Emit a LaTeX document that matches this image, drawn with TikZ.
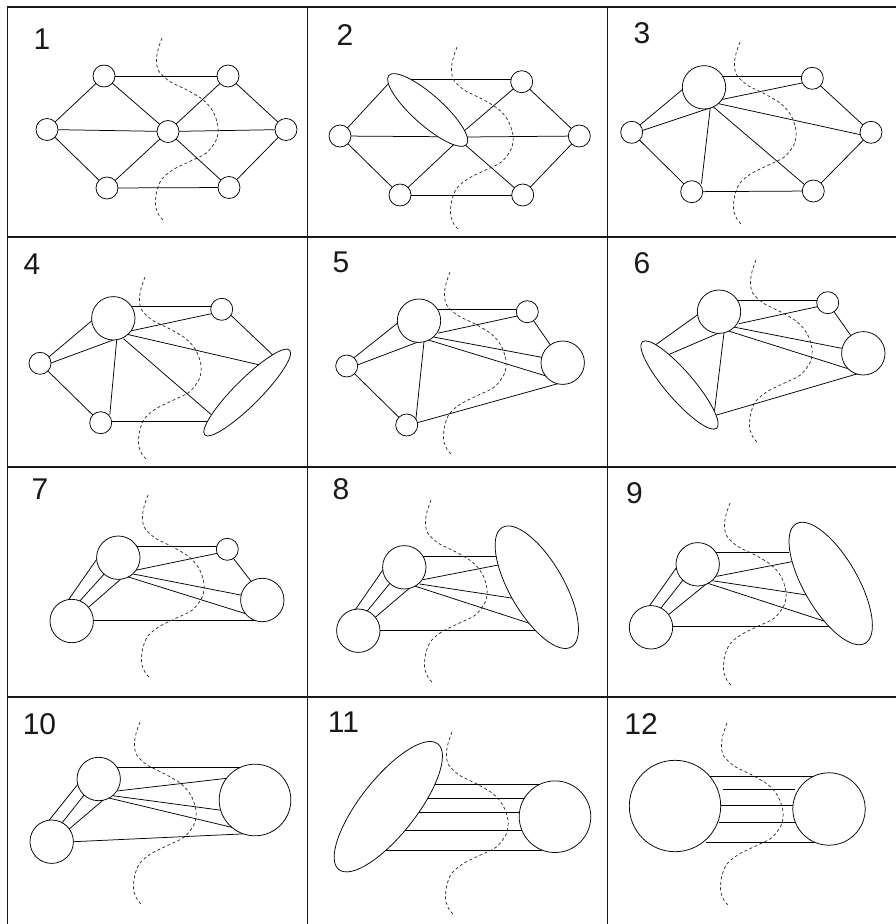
\documentclass[tikz,border=0pt]{standalone}
\usepackage{fontspec}
\setmainfont{Liberation Sans}
\usetikzlibrary{shapes.geometric,backgrounds}
\newcommand{\mywave}[2]{%
  \begin{scope}[shift={(#1,#2)}]
  \draw[wv] plot[smooth] coordinates {(0,0) (-4,11.7) (-5.6,23.4) (-3,33.4) (7.7,43.4) (24.4,51.7) (41,61.7) (51,73.4) (56,88.4) (54.4,101.7) (44.4,115) (27.7,123.4) (11,131.7) (-0.6,141.7) (-5.6,155) (-6.3,168.4) (-2.3,178.4) (1.7,182.4)};
  \end{scope}}
\newcommand{\edg}[2]{\draw[ed] (#1) -- (#2);}
\newcommand{\edn}[2]{\draw[edz] (#1) -- (#2);}
\begin{document}
\begin{tikzpicture}[x=1pt,y=-1pt,
  sm/.style={circle,draw,fill=white,line width=0.75pt,minimum size=22pt,inner sep=0pt},
  md/.style={circle,draw,fill=white,line width=0.75pt,minimum size=43.4pt,inner sep=0pt},
  lg/.style={circle,draw,fill=white,line width=0.75pt,minimum size=71.6pt,inner sep=0pt},
  ell/.style={ellipse,draw,fill=white,line width=0.75pt,inner sep=0pt},
  ed/.style={line width=0.75pt,shorten <=-2pt,shorten >=-2pt},
  edz/.style={line width=0.75pt},
  wv/.style={line width=0.7pt,black!85,dash pattern=on 3pt off 2.5pt},
  lab/.style={font=\fontsize{30}{30}\selectfont,inner sep=0pt,text=black!90},
  gridline/.style={line width=1.6pt,black!90}]
\useasboundingbox (0,0) rectangle (896,924);
\begin{pgfonlayer}{background}
\fill[white] (0,0) rectangle (896,924);
\end{pgfonlayer}
% grid
\draw[gridline] (7.5,924) -- (7.5,7) -- (896,7);
\draw[gridline] (307.5,7) -- (307.5,924);
\draw[gridline] (607.5,7) -- (607.5,924);
\draw[gridline] (7.5,237) -- (896,237);
\draw[gridline] (7.5,467) -- (896,467);
\draw[gridline] (7.5,697) -- (896,697);
% labels
\node[lab] (l1) at (42,39.5) {1};
\node[lab] (l2) at (345,35) {2};
\node[lab] (l3) at (642,33.5) {3};
\node[lab] (l4) at (32,264) {4};
\node[lab] (l5) at (341,262) {5};
\node[lab] (l6) at (642,263) {6};
\node[lab] (l7) at (40,489.5) {7};
\node[lab] (l8) at (341,489.5) {8};
\node[lab] (l9) at (634.5,493.5) {9};
\node[lab] (l10) at (39.5,724) {10};
\node[lab] (l11) at (343.5,722.5) {11};
\node[lab] (l12) at (641,724) {12};
% panel 1
\node[sm] (a1) at (104,76) {};
\node[sm] (b1) at (228,76) {};
\node[sm] (c1) at (47,129.5) {};
\node[sm] (d1) at (168,131.5) {};
\node[sm] (e1) at (286,129.5) {};
\node[sm] (f1) at (107,188) {};
\node[sm] (g1) at (229,187.5) {};
% panel 2
\node[ell,minimum width=104pt,minimum height=30pt,rotate=-41.7] (E2) at (427.7,110) {};
\node[sm] (b2) at (521.7,81.7) {};
\node[sm] (c2) at (340,136) {};
\node[sm] (e2) at (579.3,136) {};
\node[sm] (f2) at (400,195) {};
\node[sm] (g2) at (522.7,195) {};
% panel 3
\node[md] (B3) at (704,87.3) {};
\node[sm] (b3) at (812.3,78.3) {};
\node[sm] (c3) at (631.7,132.3) {};
\node[sm] (e3) at (871,132.3) {};
\node[sm] (f3) at (691.7,191.7) {};
\node[sm] (g3) at (813.3,191) {};
% panel 4
\node[md] (B4) at (113.3,318.3) {};
\node[sm] (b4) at (221.7,309.3) {};
\node[sm] (c4) at (40,363.3) {};
\node[sm] (f4) at (100.7,422.7) {};
\node[ell,minimum width=120pt,minimum height=26pt,rotate=45] (E4) at (247.2,392.5) {};
% panel 5
\node[md] (B5) at (419,320.7) {};
\node[sm] (b5) at (527.3,311.7) {};
\node[sm] (c5) at (346.7,366) {};
\node[sm] (f5) at (406.7,425) {};
\node[md] (R5) at (562.7,362.7) {};
% panel 6
\node[md] (B6) at (719,311.7) {};
\node[sm] (b6) at (827.7,302.7) {};
\node[md] (R6) at (863.3,353.3) {};
\node[ell,minimum width=114pt,minimum height=28pt,rotate=-49.3] (E6) at (679.5,385) {};
% panel 7
\node[md] (B7) at (118.3,557.7) {};
\node[sm] (b7) at (227.3,549.3) {};
\node[md] (R7) at (262.3,600) {};
\node[md] (L7) at (71.7,621) {};
% panel 8
\node[md] (B8) at (404.3,567.3) {};
\node[md] (L8) at (358.3,630.7) {};
\node[ell,minimum width=138pt,minimum height=54pt,rotate=-60] (E8) at (536.8,587.2) {};
% panel 9
\node[md] (B9) at (697.7,564.3) {};
\node[md] (L9) at (651,627.3) {};
\node[ell,minimum width=138pt,minimum height=54pt,rotate=-60] (E9) at (830.7,583.5) {};
% panel 10
\node[md] (B10) at (98.7,779) {};
\node[md] (L10) at (51.7,841.7) {};
\node[lg] (R10) at (255,800) {};
% panel 11
\node[ell,minimum width=160pt,minimum height=56pt,rotate=51.8] (E11) at (388.3,806.7) {};
\node[lg] (R11) at (555,816.7) {};
% panel 12
\node[circle,draw,fill=white,line width=0.75pt,inner sep=0pt,minimum size=91.4pt] (P12) at (675,806) {};
\node[circle,draw,fill=white,line width=0.75pt,inner sep=0pt,minimum size=72.4pt] (Q12) at (829,809) {};
% edges
\begin{pgfonlayer}{background}
% 1
\edg{a1}{b1} \edg{a1}{c1} \edg{a1}{d1} \edg{c1}{d1} \edg{c1}{f1} \edg{f1}{d1}
\edg{f1}{g1} \edg{d1}{b1} \edg{d1}{e1} \edg{d1}{g1} \edg{b1}{e1} \edg{g1}{e1}
% 2
\edg{413.3,79.3}{511,79.3} \edg{c2}{389.3,82.7} \edg{c2}{440,136.7} \edg{f2}{453.3,145}
\edg{463.3,131.7}{b2} \edg{466,137}{e2} \edg{463,143}{g2}
\edg{c2}{f2} \edg{f2}{g2} \edg{b2}{e2} \edg{g2}{e2}
% 3
\edg{725,76}{801.6,76} \edg{722.7,99.3}{803.3,82.7} \edg{720,104}{861.7,135}
\edg{715,108.3}{805,185} \edg{710,110}{701.7,181.7} \edg{640,125}{682.7,89.3}
\edg{641.7,130.7}{706,109.3} \edg{c3}{f3} \edg{f3}{g3} \edg{b3}{e3} \edg{g3}{e3}
% 4
\edg{133,306.7}{211,306.7} \edg{131.7,330.7}{213.3,313.3} \edg{130,335}{260,365}
\edg{125,340}{211.7,415} \edg{116.7,340}{110,412.7} \edg{50,356}{92.7,320}
\edg{51.7,362.7}{113.3,340} \edg{c4}{f4} \edg{111.4,421.7}{206.7,421.7}
\edg{231.7,316}{271.7,354}
% 5
\edg{438.3,309.3}{516.7,309.3} \edg{440,332.7}{517.3,316} \edg{435,337.3}{541.7,357.3}
\edg{430.7,340.7}{548.3,376.7} \edg{424,341.7}{416,418.3} \edg{353.3,358.3}{397.3,323.3}
\edg{357.3,365}{417.3,342.3} \edg{c5}{f5} \edg{417.3,422.7}{556.7,384} \edg{b5}{R5}
% 6
\edg{739.3,300}{816.7,300} \edg{740.7,323.3}{817.3,306.7} \edg{735,327.3}{841.7,348.3}
\edg{730.7,331.7}{846.7,368.3} \edg{656.7,344}{697.3,315} \edg{670,354}{718.3,333.3}
\edg{724,332.7}{714,415} \edg{716.7,415}{856.7,374} \edg{b6}{R6}
% 7
\edg{138.3,546}{216.7,546} \edg{136.7,570}{217.3,553.3} \edg{133.3,574}{240.7,595}
\edg{129.3,577.3}{246.7,614} \edg{68.3,600}{96.7,559.3} \edg{80.7,600}{103.3,575}
\edg{90,606}{121.7,578.3} \edg{93.3,620}{256.7,620} \edg{233.3,558.3}{250.7,580.7}
% 8
\edg{424,556}{494.3,556} \edg{425,579.3}{496.7,565.3} \edg{421.7,584.3}{513.3,598.3}
\edg{416.7,586.7}{531.7,624} \edg{355,610}{383.3,569.3} \edg{366.7,611.7}{389.3,584}
\edg{376,616.7}{409.3,588.3} \edg{380,630}{536.7,630}
% 9
\edg{716.7,552.7}{787.3,552.7} \edg{718.3,576}{790,562} \edg{714.3,581}{806.7,595}
\edg{710,584}{824,621} \edg{649.3,606}{676,568.3} \edg{660.7,608.3}{682.3,581}
\edg{669.3,614}{705,585} \edg{672.7,626}{830,626}
% 10
\edg{119.3,767.3}{242.7,767.3} \edg{119.3,790.7}{226.7,778.3} \edg{115,796}{219.3,810}
\edg{110,798.3}{231.7,827.3} \edg{49.3,820}{77.3,785} \edg{61.7,823.3}{83.3,796}
\edg{70,828.3}{103.3,800} \edg{73.3,841.7}{240.7,834}
% 11
\edg{436.7,784}{545,784} \edg{428.3,798}{521.7,798} \edg{418.3,812.3}{520,812.3}
\edg{405,830}{521.7,830} \edg{385,850.7}{540,850.7}
% 12
\edg{711.7,776.7}{815,776.7} \edn{722.7,789.3}{795,789.3} \edg{720.7,805.7}{793.3,805.7}
\edn{719.3,822.3}{796,822.3} \edg{708.3,842.7}{813.3,842.7}
\end{pgfonlayer}
% waves
\mywave{162}{38} \mywave{457}{47} \mywave{740}{42}
\mywave{145}{277} \mywave{450}{272} \mywave{756}{260}
\mywave{148}{495} \mywave{431}{500} \mywave{730}{503}
\mywave{140}{722} \mywave{452}{732} \mywave{727}{723}
\end{tikzpicture}
\end{document}
